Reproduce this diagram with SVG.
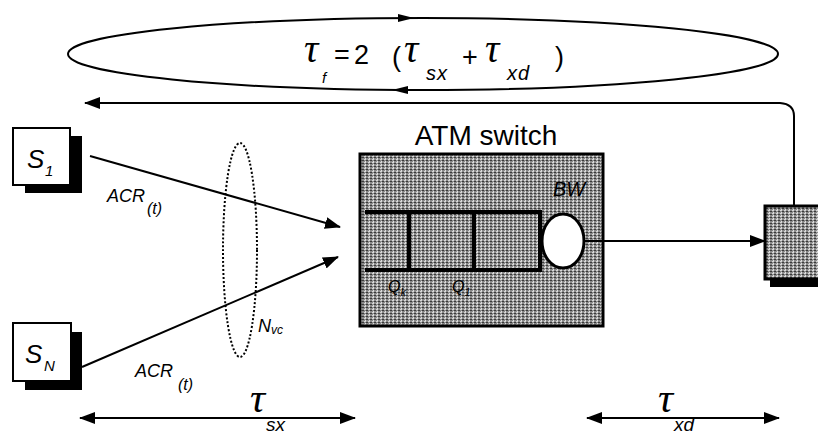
<svg xmlns="http://www.w3.org/2000/svg" width="818" height="436" viewBox="0 0 818 436">
<style>
.ln{stroke:#000;stroke-width:2;fill:none}
.t{font-family:"Liberation Sans",Arial,sans-serif;font-style:italic;fill:#000}
.n{font-family:"Liberation Sans",Arial,sans-serif;fill:#000}
.tau{font-family:"Liberation Serif","Times New Roman",serif;font-style:italic;fill:#000}
.box{fill:#fff;stroke:#000;stroke-width:2}
.gray{fill:url(#dither);stroke:#000;stroke-width:3}
</style>
<defs>
<pattern id="dither" width="4" height="3" patternUnits="userSpaceOnUse">
<rect width="4" height="3" fill="#8a8a8a"/>
<rect x="0" y="0" width="2" height="1" fill="#d8d8d8"/>
<rect x="2" y="1" width="2" height="1" fill="#3a3a3a"/>
<rect x="1" y="2" width="1" height="1" fill="#e0e0e0"/>
</pattern>
<marker id="ah" viewBox="0 0 16 12" refX="15" refY="6" markerWidth="16" markerHeight="12" markerUnits="userSpaceOnUse" orient="auto-start-reverse">
<path d="M0,0 L16,6 L0,12 z" fill="#000"/>
</marker>
</defs>

<g id="loop">
<ellipse cx="423" cy="54" rx="355" ry="36" class="ln"/>
<path d="M398,14 L414,18 L398,22 z" fill="#000"/>
<path d="M408,86 L392,90 L408,94 z" fill="#000"/>
<text x="304" y="62" class="tau" font-size="40">τ</text>
<text x="322" y="83" class="t" font-size="15">f</text>
<text x="334" y="64" class="n" font-size="27">=</text>
<text x="354" y="64" class="n" font-size="27">2</text>
<text x="392" y="66" class="n" font-size="27">(</text>
<text x="404" y="62" class="tau" font-size="40">τ</text>
<text x="426" y="80" class="t" font-size="20" letter-spacing="1">sx</text>
<text x="462" y="66" class="n" font-size="27">+</text>
<text x="485" y="62" class="tau" font-size="40">τ</text>
<text x="507" y="80" class="t" font-size="20" letter-spacing="1">xd</text>
<text x="555" y="66" class="n" font-size="27">)</text>
</g>

<g id="S1">
<rect x="25" y="136" width="57" height="57" fill="#000"/>
<rect x="13" y="128" width="57" height="57" class="box"/>
<text x="27" y="168" class="t" font-size="26">S</text>
<text x="45" y="176" class="t" font-size="15">1</text>
</g>

<g id="SN">
<rect x="25" y="332" width="57" height="58" fill="#000"/>
<rect x="13" y="323" width="58" height="58" class="box"/>
<text x="25" y="363" class="t" font-size="26">S</text>
<text x="44" y="371" class="t" font-size="15">N</text>
</g>

<g id="switch">
<text x="486" y="145" text-anchor="middle" class="n" font-size="28">ATM switch</text>
<rect x="360" y="154" width="243" height="172" class="gray"/>
<path d="M365,212 H540 V270 H365 M409,212 V270 M474,212 V270" stroke="#000" stroke-width="4" fill="none"/>
<ellipse cx="563" cy="241" rx="21" ry="27" fill="#fff" stroke="#000" stroke-width="3"/>
<text x="553" y="196" class="t" font-size="20">BW</text>
<text x="388" y="292" class="t" font-size="16" fill="#222">Q<tspan font-size="11" dy="4">k</tspan></text>
<text x="452" y="292" class="t" font-size="16" fill="#222">Q<tspan font-size="11" dy="4">1</tspan></text>
</g>

<g id="dest">
<rect x="770" y="215" width="60" height="72" fill="#000"/>
<rect x="765" y="206" width="60" height="73" class="gray"/>
</g>

<g id="vcgroup">
<ellipse cx="240" cy="250" rx="17" ry="107" fill="none" stroke="#000" stroke-width="2" stroke-dasharray="2,2"/>
<text x="258" y="332" class="t" font-size="18">N<tspan font-size="12" dy="2">vc</tspan></text>
</g>

<g id="connectors">
<line x1="90" y1="156" x2="340" y2="227" class="ln" marker-end="url(#ah)"/>
<line x1="82" y1="367" x2="338" y2="257" class="ln" marker-end="url(#ah)"/>
<line x1="584" y1="241" x2="765" y2="241" class="ln" marker-end="url(#ah)"/>
<path d="M794,206 V116 Q794,104 780,103 H85" class="ln" marker-end="url(#ah)"/>
<line x1="80" y1="418" x2="355" y2="418" class="ln" marker-start="url(#ah)" marker-end="url(#ah)"/>
<line x1="587" y1="418" x2="779" y2="418" class="ln" marker-start="url(#ah)" marker-end="url(#ah)"/>
</g>

<g id="labels">
<text x="107" y="202" class="t" font-size="18">ACR</text>
<text x="147" y="214" class="t" font-size="16">(t)</text>
<text x="135" y="377" class="t" font-size="18">ACR</text>
<text x="178" y="390" class="t" font-size="16">(t)</text>
<text x="250" y="412" class="tau" font-size="42">τ</text>
<text x="266" y="431" class="t" font-size="19">sx</text>
<text x="658" y="412" class="tau" font-size="42">τ</text>
<text x="674" y="431" class="t" font-size="19">xd</text>
</g>
</svg>
